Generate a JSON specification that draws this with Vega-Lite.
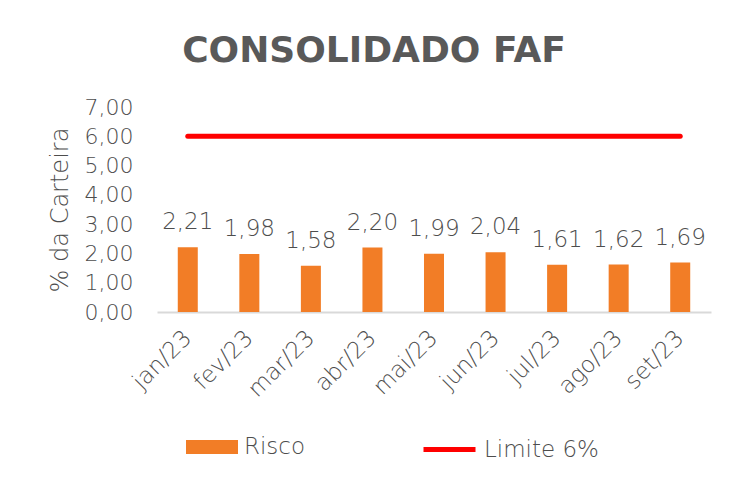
{
  "$schema": "https://vega.github.io/schema/vega-lite/v6.json",
  "autosize": {"type": "none"},
  "width": 554,
  "height": 205,
  "padding": {"left": 157, "top": 107, "right": 23, "bottom": 170},
  "background": "white",
  "title": {
    "text": "CONSOLIDADO FAF",
    "anchor": "middle",
    "frame": "group",
    "dx": -60,
    "font": "DejaVu Sans",
    "fontSize": 36,
    "fontWeight": 900,
    "color": "#595959",
    "offset": 26
  },
  "config": {
    "view": {"stroke": null},
    "locale": {"number": {"decimal": ",", "thousands": ".", "grouping": [3], "currency": ["R$", ""]}},
    "font": "DejaVu Sans",
    "axis": {"labelFont": "DejaVu Sans", "titleFont": "DejaVu Sans", "labelColor": "#4D4D4D", "titleColor": "#4D4D4D", "labelFontWeight": 300, "titleFontWeight": 300, "labelOverlap": false},
    "axisY": {
      "title": "% da Carteira",
      "titleFontSize": 24,
      "titlePadding": 12,
      "values": [0, 1, 2, 3, 4, 5, 6, 7],
      "format": ".2f",
      "labelFontSize": 22,
      "labelPadding": 24,
      "labelOverlap": false,
      "ticks": false,
      "domain": false,
      "grid": false
    }
  },
  "data": {
    "values": [
      {"mes": "jan/23", "risco": 2.21, "limite": 6},
      {"mes": "fev/23", "risco": 1.98, "limite": 6},
      {"mes": "mar/23", "risco": 1.58, "limite": 6},
      {"mes": "abr/23", "risco": 2.20, "limite": 6},
      {"mes": "mai/23", "risco": 1.99, "limite": 6},
      {"mes": "jun/23", "risco": 2.04, "limite": 6},
      {"mes": "jul/23", "risco": 1.61, "limite": 6},
      {"mes": "ago/23", "risco": 1.62, "limite": 6},
      {"mes": "set/23", "risco": 1.69, "limite": 6}
    ]
  },
  "encoding": {
    "x": {
      "field": "mes",
      "type": "ordinal",
      "sort": null,
      "scale": {"paddingInner": 0.675, "paddingOuter": 0.3375},
      "axis": {
        "title": null,
        "labelAngle": -45,
        "labelAlign": "right",
        "labelBaseline": "middle",
        "labelFontSize": 23,
        "labelPadding": 22,
        "labelOverlap": false,
        "ticks": false,
        "domainColor": "#D9D9D9",
        "domainWidth": 2
      }
    }
  },
  "layer": [
    {
      "mark": {"type": "bar"},
      "encoding": {
        "y": {
          "field": "risco",
          "type": "quantitative",
          "title": "% da Carteira",
          "scale": {"domain": [0, 7], "nice": false},
          "axis": {"values": [0, 1, 2, 3, 4, 5, 6, 7], "format": ".2f", "labelOverlap": false}
        },
        "fill": {
          "datum": "Risco",
          "scale": {"domain": ["Risco"], "range": ["#F27D26"]},
          "legend": {
            "title": null,
            "orient": "none",
            "legendX": 29,
            "legendY": 314,
            "symbolType": "M-1,-0.27H1V0.27H-1Z",
            "symbolSize": 2704,
            "symbolStrokeWidth": 0,
            "labelFontSize": 23,
            "labelColor": "#4D4D4D",
            "labelFont": "DejaVu Sans",
            "labelFontWeight": 300,
            "labelOffset": 6,
            "padding": 0
          }
        }
      }
    },
    {
      "mark": {"type": "text", "dy": -18, "baseline": "alphabetic", "fontSize": 23, "color": "#4D4D4D", "font": "DejaVu Sans", "fontWeight": 300},
      "encoding": {
        "y": {"field": "risco", "type": "quantitative", "title": "% da Carteira", "axis": {"values": [0, 1, 2, 3, 4, 5, 6, 7], "format": ".2f", "labelOverlap": false}},
        "text": {"field": "risco", "type": "quantitative", "format": ".2f"}
      }
    },
    {
      "mark": {"type": "line", "strokeWidth": 5, "strokeCap": "round"},
      "encoding": {
        "y": {"field": "limite", "type": "quantitative", "title": "% da Carteira", "axis": {"values": [0, 1, 2, 3, 4, 5, 6, 7], "format": ".2f", "labelOverlap": false}},
        "stroke": {
          "datum": "Limite 6%",
          "scale": {"domain": ["Limite 6%"], "range": ["#FF0000"]},
          "legend": {
            "title": null,
            "orient": "none",
            "legendX": 264,
            "legendY": 314,
            "symbolType": "stroke",
            "symbolSize": 2704,
            "symbolStrokeWidth": 5,
            "labelFontSize": 23,
            "labelColor": "#4D4D4D",
            "labelFont": "DejaVu Sans",
            "labelFontWeight": 300,
            "labelOffset": 6,
            "padding": 0
          }
        }
      }
    }
  ],
  "resolve": {"scale": {"y": "shared"}}
}
